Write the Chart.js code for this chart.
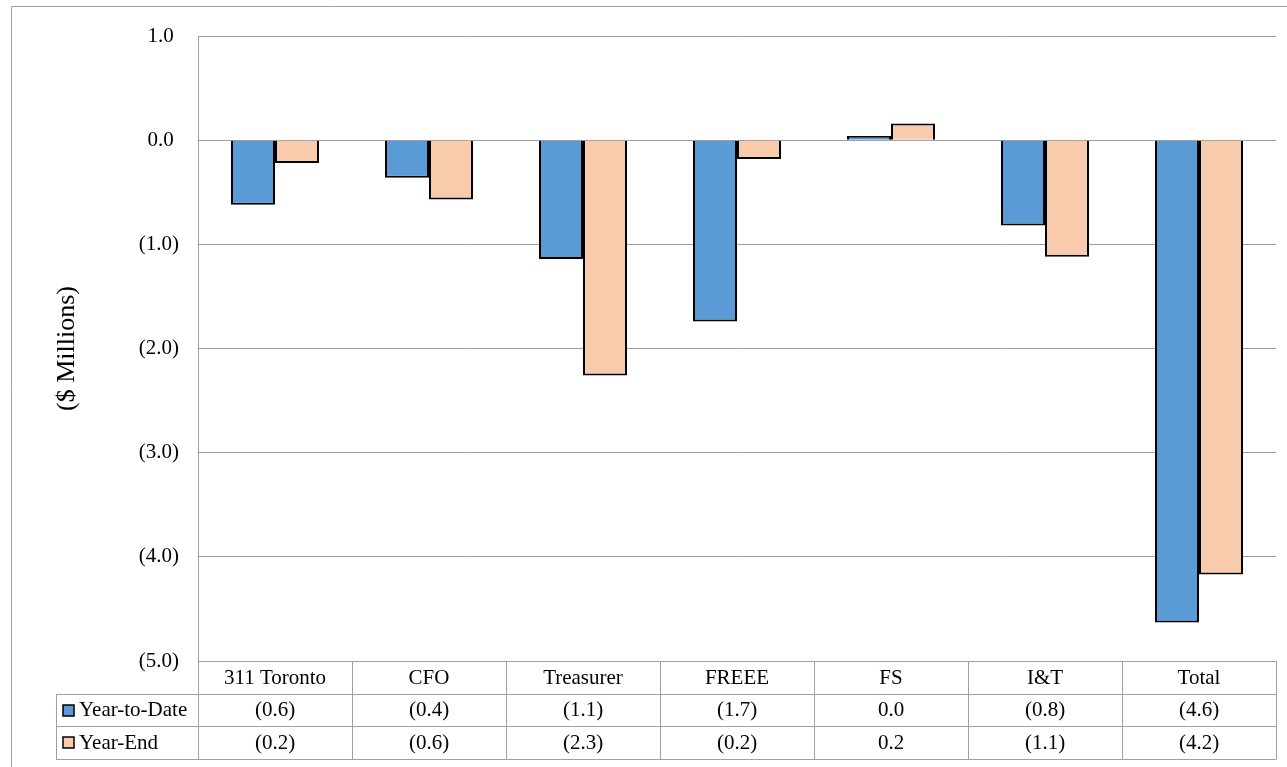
<!DOCTYPE html>
<html>
<head>
<meta charset="utf-8">
<script src="https://cdn.jsdelivr.net/npm/chart.js@4/dist/chart.umd.min.js"></script>
<style>
  html, body { margin: 0; padding: 0; background: #ffffff; }
  #wrap { position: relative; width: 1287px; height: 767px; }
</style>
</head>
<body>
<div id="wrap"><canvas id="c" width="1287" height="767"></canvas></div>
<script>
// Variance by division, $ millions
const categories = ['311 Toronto', 'CFO', 'Treasurer', 'FREEE', 'FS', 'I&T', 'Total'];
const yearToDate = [-0.62, -0.36, -1.14, -1.74, 0.04, -0.82, -4.63];
const yearEnd = [-0.22, -0.57, -2.26, -0.18, 0.16, -1.12, -4.17];
const seriesNames = ['Year-to-Date', 'Year-End'];
const yTicks = [1, 0, -1, -2, -3, -4, -5];
const axisTitle = '($ Millions)';

const FONT = "'Liberation Serif', 'Times New Roman', serif";
const GRID = '#A0A0A0';
const colors = ['#5B9BD5', '#F8CBAD'];

function fmt(v) {
  const s = Math.abs(v).toFixed(1);
  return (v < 0 && s !== '0.0') ? '(' + s + ')' : s;
}

// Frame, axis title and the data table under the plot
const tablePlugin = {
  id: 'dataTable',
  beforeDraw(chart) {
    const ctx = chart.ctx;
    ctx.save();
    ctx.strokeStyle = GRID;
    ctx.lineWidth = 1;
    ctx.beginPath();
    ctx.moveTo(11.5, 767);
    ctx.lineTo(11.5, 6.5);
    ctx.lineTo(1287, 6.5);
    ctx.stroke();
    ctx.restore();
  },
  afterDraw(chart) {
    const ctx = chart.ctx;
    const area = chart.chartArea;
    const xs = chart.scales.x;
    const n = categories.length;
    const colW = (area.right - area.left) / n;
    const rowH = 32.5;
    const top = area.bottom;
    const left = 56;
    const series = [yearToDate, yearEnd];

    ctx.save();
    // axis title
    ctx.fillStyle = '#000';
    ctx.font = '26px ' + FONT;
    ctx.textAlign = 'center';
    ctx.textBaseline = 'middle';
    ctx.translate(67, (area.top + area.bottom) / 2);
    ctx.rotate(-Math.PI / 2);
    ctx.fillText(axisTitle, 0, 0);
    ctx.restore();

    ctx.save();
    ctx.strokeStyle = GRID;
    ctx.lineWidth = 1;
    ctx.beginPath();
    // horizontal rules
    ctx.moveTo(area.left, Math.round(top) + 0.5);
    ctx.lineTo(area.right, Math.round(top) + 0.5);
    for (let r = 1; r <= 3; r++) {
      const y = Math.round(top + r * rowH) + 0.5;
      ctx.moveTo(left, y);
      ctx.lineTo(area.right, y);
    }
    // vertical rules
    for (let i = 0; i <= n; i++) {
      const x = Math.round(area.left + i * colW) + 0.5;
      ctx.moveTo(x, top);
      ctx.lineTo(x, Math.round(top + 3 * rowH) + 0.5);
    }
    ctx.moveTo(left + 0.5, Math.round(top + rowH));
    ctx.lineTo(left + 0.5, Math.round(top + 3 * rowH) + 0.5);
    ctx.stroke();

    ctx.fillStyle = '#000';
    ctx.font = '21px ' + FONT;
    ctx.textBaseline = 'middle';
    ctx.textAlign = 'center';
    for (let i = 0; i < n; i++) {
      const cx = xs.getPixelForValue(i);
      ctx.fillText(categories[i], cx, top + rowH * 0.5 + 1);
      for (let s = 0; s < series.length; s++) {
        ctx.fillText(fmt(series[s][i]), cx, top + rowH * (s + 1.5) + 1);
      }
    }
    // series keys
    ctx.textAlign = 'left';
    for (let s = 0; s < series.length; s++) {
      const cy = top + rowH * (s + 1.5);
      ctx.fillStyle = colors[s];
      ctx.fillRect(63, Math.round(cy) - 5, 11, 11);
      ctx.strokeStyle = '#000';
      ctx.lineWidth = 1.5;
      ctx.strokeRect(63, Math.round(cy) - 5, 11, 11);
      ctx.fillStyle = '#000';
      ctx.fillText(seriesNames[s], 79, cy + 1);
    }
    ctx.restore();
  }
};

new Chart(document.getElementById('c'), {
  type: 'bar',
  data: {
    labels: categories,
    datasets: [
      { label: seriesNames[0], data: yearToDate, backgroundColor: colors[0] },
      { label: seriesNames[1], data: yearEnd, backgroundColor: colors[1] }
    ]
  },
  options: {
    responsive: false,
    animation: false,
    devicePixelRatio: 1,
    layout: { padding: { left: 0, top: 36, right: 11, bottom: 106 } },
    datasets: {
      bar: {
        borderColor: '#000000',
        borderWidth: 2,
        categoryPercentage: 0.5714,
        barPercentage: 1
      }
    },
    plugins: {
      legend: { display: false },
      tooltip: { enabled: false },
      title: { display: false }
    },
    scales: {
      x: { display: false },
      y: {
        min: -5,
        max: 1,
        afterBuildTicks(scale) { scale.ticks = yTicks.map(v => ({ value: v })); },
        afterFit(scale) { scale.width = 198; },
        border: { display: true, color: GRID, width: 1 },
        grid: { color: GRID, lineWidth: 1, drawTicks: false },
        ticks: {
          padding: 19,
          color: '#000',
          font: { family: FONT, size: 21 },
          callback: v => (v < 0 ? fmt(v) : fmt(v) + ' ')
        }
      }
    }
  },
  plugins: [tablePlugin]
});
</script>
</body>
</html>
